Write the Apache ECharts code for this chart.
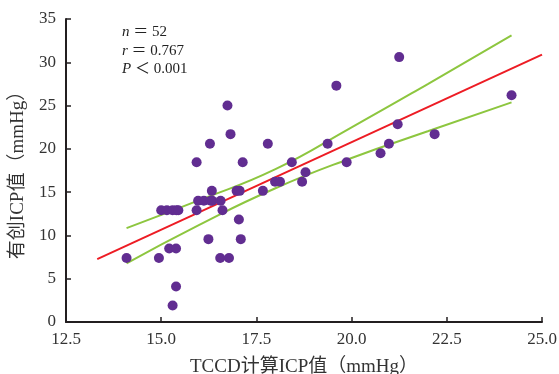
<!DOCTYPE html>
<html>
<head>
<meta charset="utf-8">
<script src="https://cdn.jsdelivr.net/npm/echarts@6/dist/echarts.min.js"></script>
<style>
  html, body { margin: 0; padding: 0; background: #fff; }
  #chart { width: 559px; height: 374px; }
</style>
</head>
<body>
<div id="chart"></div>
<script>
// TCCD estimated ICP vs invasive ICP (mmHg)
const tccdIcp = [
  14.09, 14.94, 15.0, 15.15, 15.3, 15.4, 15.45, 15.21, 15.39, 15.39,
  15.3, 15.93, 15.93, 15.97, 16.12, 16.3, 16.34, 16.56, 16.33, 16.28,
  16.74, 16.82, 16.61, 16.24, 16.55, 16.78, 17.04, 17.09, 16.98, 17.06,
  17.14, 17.8, 17.67, 17.99, 18.12, 18.43, 18.7, 18.79, 19.37, 19.6,
  19.87, 20.76, 20.98, 21.21, 21.25, 22.18, 24.2
];
const invasiveIcp = [
  7.4, 7.4, 12.9, 12.9, 12.9, 12.9, 12.9, 8.5, 8.5, 4.1,
  1.9, 18.45, 12.9, 14.0, 14.0, 14.0, 14.0, 14.0, 15.15, 20.6,
  25.0, 21.7, 12.9, 9.57, 7.4, 7.4, 11.84, 9.57, 15.15, 15.15,
  18.45, 20.6, 15.15, 16.2, 16.2, 18.45, 16.2, 17.3, 20.6, 27.3,
  18.45, 19.5, 20.6, 22.85, 30.6, 21.7, 26.2
];

// fitted line and 95% band
const fitX = [13.32, 25.0];
const fitY = [7.27, 30.89];
const bandX = [14.09, 16.0, 18.0, 20.0, 22.0, 24.2];
const bandUpper = [10.84, 14.07, 17.65, 22.49, 27.49, 33.1];
const bandLower = [6.77, 11.22, 15.45, 18.95, 22.03, 25.37];

const xTicks = { min: 12.5, max: 25, step: 2.5 };
const yTicks = { min: 0, max: 35, step: 5 };

const zip = (xs, ys) => xs.map((x, i) => [x, ys[i]]);

const chart = echarts.init(document.getElementById('chart'));

const serif = '"Liberation Serif", "Noto Sans CJK SC", serif';
const axisColor = '#231f20';

chart.setOption({
  animation: false,
  grid: { left: 66, right: 17, top: 19, bottom: 52, outerBoundsMode: 'none', containLabel: false },
  xAxis: {
    type: 'value',
    min: xTicks.min,
    max: xTicks.max,
    interval: xTicks.step,
    name: 'TCCD计算ICP值（mmHg）',
    nameLocation: 'middle',
    nameGap: 36,
    nameTextStyle: { fontFamily: serif, fontSize: 19, color: '#333' },
    axisLine: { lineStyle: { color: axisColor, width: 2 } },
    axisTick: { inside: true, length: 5, lineStyle: { color: axisColor, width: 1.5 } },
    axisLabel: {
      fontFamily: serif, fontSize: 17, color: '#333', margin: 9,
      formatter: v => v.toFixed(1)
    },
    splitLine: { show: false }
  },
  yAxis: {
    type: 'value',
    min: yTicks.min,
    max: yTicks.max,
    interval: yTicks.step,
    name: '有创ICP值（mmHg）',
    nameLocation: 'middle',
    nameGap: 38,
    nameTextStyle: { fontFamily: serif, fontSize: 19, color: '#333' },
    axisLine: { show: true, lineStyle: { color: axisColor, width: 2 } },
    axisTick: { show: true, inside: true, length: 5, lineStyle: { color: axisColor, width: 1.5 } },
    axisLabel: { fontFamily: serif, fontSize: 17, color: '#333', margin: 10 },
    splitLine: { show: false }
  },
  graphic: [{
    type: 'text',
    left: 122,
    top: 23,
    style: {
      text: '{i|n} ＝ 52\n{i|r} ＝ 0.767\n{i|P} ＜ 0.001',
      fontFamily: serif,
      fontSize: 15,
      lineHeight: 18.5,
      fill: '#222',
      rich: {
        i: { fontFamily: serif, fontStyle: 'italic', fontSize: 15, fill: '#222' }
      }
    }
  }],
  series: [
    {
      type: 'line',
      data: zip(bandX, bandUpper),
      smooth: true,
      symbol: 'none',
      lineStyle: { color: '#8dc63f', width: 2 },
      z: 2
    },
    {
      type: 'line',
      data: zip(bandX, bandLower),
      smooth: true,
      symbol: 'none',
      lineStyle: { color: '#8dc63f', width: 2 },
      z: 2
    },
    {
      type: 'line',
      data: zip(fitX, fitY),
      symbol: 'none',
      lineStyle: { color: '#ed1c24', width: 2 },
      z: 3
    },
    {
      type: 'scatter',
      data: zip(tccdIcp, invasiveIcp),
      symbolSize: 10,
      itemStyle: { color: '#612d91', opacity: 1 },
      z: 4
    }
  ]
});
</script>
</body>
</html>
